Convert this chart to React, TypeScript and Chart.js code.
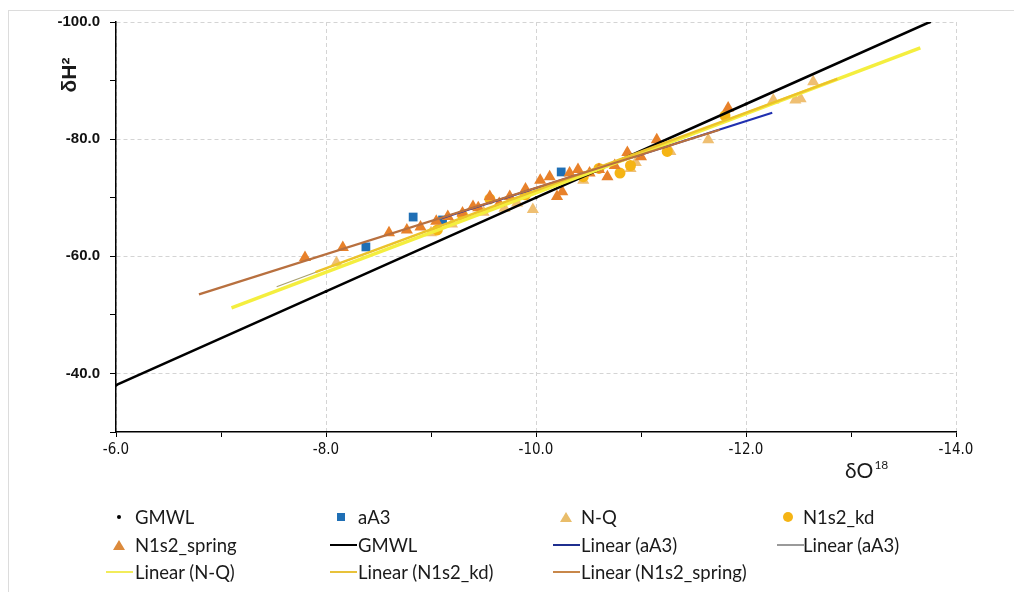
import React, { useEffect, useRef } from 'react';
import { Chart, registerables } from 'chart.js';

Chart.register(...registerables);

// ---- data ----
const GMWL_X = [-6, -8, -10, -12, -13.75];
const GMWL_Y = [-38, -54, -70, -86, -100];

const AA3_X = [-8.38, -8.83, -9.11, -10.24];
const AA3_Y = [-61.6, -66.7, -66.2, -74.4];

const NQ_X = [-8.10, -9.0, -9.2, -9.5, -9.7, -9.82, -9.97, -10.45, -10.9, -10.95, -11.28, -11.64, -12.26, -12.47, -12.52, -12.64];
const NQ_Y = [-58.9, -64.0, -65.5, -67.5, -68.2, -69.1, -68.0, -73.0, -75.0, -76.0, -77.9, -79.9, -86.7, -86.7, -86.9, -89.8];

const KD_X = [-9.06, -9.3, -9.56, -9.9, -10.45, -10.6, -10.80, -10.9, -11.25, -11.8];
const KD_Y = [-64.5, -67.0, -69.8, -70.5, -73.6, -75.0, -74.2, -75.5, -77.9, -84.0];

const SPRING_X = [-7.80, -8.16, -8.6, -8.77, -8.90, -9.05, -9.16, -9.30, -9.4, -9.45, -9.56, -9.65, -9.75, -9.9, -10.04, -10.13, -10.20, -10.25, -10.32, -10.4, -10.51, -10.6, -10.68, -10.75, -10.87, -11.0, -11.15, -11.83];
const SPRING_Y = [-59.8, -61.5, -64.0, -64.5, -65.0, -66.0, -66.8, -67.4, -68.5, -68.3, -70.2, -69.0, -70.2, -71.5, -73.0, -73.6, -70.2, -71.0, -74.2, -74.8, -74.2, -74.8, -73.6, -75.5, -77.7, -77.0, -79.9, -85.3];

const LIN_NQ_X = [-7.10, -13.66];
const LIN_NQ_Y = [-51.2, -95.6];
const LIN_KD_X = [-7.9, -12.87];
const LIN_KD_Y = [-57.3, -90.3];
const LIN_SPRING_X = [-6.79, -11.75];
const LIN_SPRING_Y = [-53.5, -81.6];
const LIN_AA3_X = [-9.1, -12.25];
const LIN_AA3_Y = [-66.5, -84.5];
const LIN_AA3_GRAY_X = [-7.53, -11.2];
const LIN_AA3_GRAY_Y = [-54.8, -79.2];

const X_MIN = -14;
const X_MAX = -6;
const Y_MIN = -100;
const Y_MAX = -30;

const zip = (xs: number[], ys: number[]) => xs.map((x, i) => ({ x, y: ys[i] }));

const C_AA3 = '#1f6fb5';
const C_NQ = '#efbf72';
const C_KD = '#f5b414';
const C_SPRING = '#e8812a';

type LegendEntry = { label: string; kind: string; color: string; col: number; row: number };
const LEGEND: LegendEntry[] = [
  { label: 'GMWL', kind: 'dot', color: '#000', col: 0, row: 0 },
  { label: 'aA3', kind: 'square', color: C_AA3, col: 1, row: 0 },
  { label: 'N-Q', kind: 'triangle', color: '#e9bd6a', col: 2, row: 0 },
  { label: 'N1s2_kd', kind: 'circle', color: C_KD, col: 3, row: 0 },
  { label: 'N1s2_spring', kind: 'triangle', color: '#dc8a3c', col: 0, row: 1 },
  { label: 'GMWL', kind: 'line', color: '#000', col: 1, row: 1 },
  { label: 'Linear (aA3)', kind: 'line', color: '#1f2f8f', col: 2, row: 1 },
  { label: 'Linear (aA3)', kind: 'thinline', color: '#9a9a9a', col: 3, row: 1 },
  { label: 'Linear (N-Q)', kind: 'line', color: '#f2ec5a', col: 0, row: 2 },
  { label: 'Linear (N1s2_kd)', kind: 'line', color: '#e8c23a', col: 1, row: 2 },
  { label: 'Linear (N1s2_spring)', kind: 'line', color: '#c8874a', col: 2, row: 2 },
];

const COL_TEXT = [135, 358, 581, 803];
const COL_MARK = [119, 341, 566, 788];
const COL_LINE = [106, 330, 553, 777];
const ROW_Y = [517, 545, 572];

const titlePlugin = {
  id: 'axisTitles',
  afterDraw(chart: any) {
    const { ctx, chartArea } = chart;
    ctx.save();
    ctx.fillStyle = '#1a1a1a';
    ctx.font = 'bold 21px "Liberation Sans", Arial, sans-serif';
    ctx.translate(chartArea.left - 46, chartArea.top + 53);
    ctx.rotate(-Math.PI / 2);
    ctx.textAlign = 'center';
    ctx.textBaseline = 'middle';
    ctx.fillText('δH²', 0, 0);
    ctx.restore();

    ctx.save();
    ctx.fillStyle = '#1a1a1a';
    ctx.textBaseline = 'alphabetic';
    ctx.textAlign = 'left';
    ctx.font = '21px Lato, "Liberation Sans", sans-serif';
    const bx = chartArea.right - 111;
    const by = chartArea.bottom + 46;
    ctx.fillText('δO', bx, by);
    const w = ctx.measureText('δO').width;
    ctx.font = '12px Lato, "Liberation Sans", sans-serif';
    ctx.fillText('18', bx + w + 1, by - 9);
    ctx.restore();
  },
};

export default function App() {
  const ref = useRef<HTMLCanvasElement>(null);

  useEffect(() => {
    if (!ref.current) return;
    const lineDs = (label: string, xs: number[], ys: number[], color: string, width: number, order: number) => ({
      label,
      data: zip(xs, ys),
      showLine: true,
      borderColor: color,
      borderWidth: width,
      pointRadius: 0,
      fill: false,
      order,
    });
    const chart = new Chart(ref.current, {
      type: 'scatter',
      data: {
        datasets: [
          lineDs('Linear (N1s2_spring)', LIN_SPRING_X, LIN_SPRING_Y, '#b8703f', 2.2, 0),
          lineDs('Linear (N1s2_kd)', LIN_KD_X, LIN_KD_Y, '#ecc22a', 2.5, 1),
          lineDs('Linear (N-Q)', LIN_NQ_X, LIN_NQ_Y, '#f4ee3e', 3.5, 2),
          lineDs('Linear (aA3) gray', LIN_AA3_GRAY_X, LIN_AA3_GRAY_Y, '#a8a070', 1.2, 3),
          lineDs('Linear (aA3)', LIN_AA3_X, LIN_AA3_Y, '#2030b0', 2.2, 4),
          lineDs('GMWL line', GMWL_X, GMWL_Y, '#000000', 2.5, 5),
          {
            label: 'N1s2_spring',
            data: zip(SPRING_X, SPRING_Y),
            pointStyle: 'triangle',
            pointRadius: 7,
            backgroundColor: C_SPRING,
            borderColor: C_SPRING,
            borderWidth: 0,
            order: 6,
          },
          {
            label: 'N1s2_kd',
            data: zip(KD_X, KD_Y),
            pointStyle: 'circle',
            pointRadius: 5.5,
            backgroundColor: C_KD,
            borderColor: C_KD,
            borderWidth: 0,
            order: 7,
          },
          {
            label: 'N-Q',
            data: zip(NQ_X, NQ_Y),
            pointStyle: 'triangle',
            pointRadius: 7,
            backgroundColor: C_NQ,
            borderColor: C_NQ,
            borderWidth: 0,
            order: 8,
          },
          {
            label: 'aA3',
            data: zip(AA3_X, AA3_Y),
            pointStyle: 'rect',
            pointRadius: 6.2,
            backgroundColor: C_AA3,
            borderColor: C_AA3,
            borderWidth: 0,
            order: 9,
          },
          {
            label: 'GMWL',
            data: zip(GMWL_X, GMWL_Y),
            pointStyle: 'circle',
            pointRadius: 1.5,
            backgroundColor: '#000',
            borderWidth: 0,
            order: 10,
          },
        ],
      },
      options: {
        animation: false,
        responsive: false,
        maintainAspectRatio: false,
        layout: { padding: { left: 0, top: 22, right: 58, bottom: 120 } },
        plugins: {
          legend: { display: false },
          tooltip: { enabled: false },
          title: { display: false },
        },
        scales: {
          x: {
            type: 'linear',
            min: X_MIN,
            max: X_MAX,
            reverse: true,
            afterFit: (s: any) => { s.height = 40; },
            ticks: {
              stepSize: 1,
              autoSkip: false,
              maxRotation: 0,
              padding: 4,
              color: '#111',
              font: { family: '"Liberation Sans Narrow", "DejaVu Sans Condensed", "Liberation Sans", sans-serif', size: 15 },
              callback: (v: any) => (Number(v) % 2 === 0 ? Number(v).toFixed(1) : ''),
            },
            grid: {
              color: (c: any) => (c.tick && Math.round(c.tick.value) % 2 === 0 ? '#d4d4d4' : 'rgba(0,0,0,0)'),
              lineWidth: 1,
              tickColor: '#000',
              tickLength: 5,
              tickWidth: 1,
              tickBorderDash: [],
            },
            border: { display: true, color: '#000', width: 1.5, dash: [4, 3] },
          },
          y: {
            type: 'linear',
            min: Y_MIN,
            max: Y_MAX,
            reverse: true,
            afterFit: (s: any) => { s.width = 116; },
            ticks: {
              stepSize: 10,
              autoSkip: false,
              padding: 10,
              color: '#111',
              font: { family: '"Liberation Sans", Arial, sans-serif', size: 15, weight: 'bold' },
              callback: (v: any) => (Number(v) % 20 === 0 ? Number(v).toFixed(1) : ''),
            },
            grid: {
              color: (c: any) => (c.tick && Math.round(c.tick.value) % 20 === 0 ? '#d4d4d4' : 'rgba(0,0,0,0)'),
              lineWidth: 1,
              tickColor: '#000',
              tickLength: 6,
              tickWidth: 1,
              tickBorderDash: [],
            },
            border: { display: true, color: '#000', width: 1.5, dash: [4, 3] },
          },
        },
      } as any,
      plugins: [titlePlugin],
    });
    return () => chart.destroy();
  }, []);

  const renderMarker = (e: LegendEntry) => {
    const cy = ROW_Y[e.row];
    if (e.kind === 'line' || e.kind === 'thinline') {
      const h = e.kind === 'line' ? 2.5 : 1.2;
      return (
        <div style={{ position: 'absolute', left: COL_LINE[e.col], top: cy - h / 2, width: 27, height: h, background: e.color }} />
      );
    }
    const cx = COL_MARK[e.col];
    if (e.kind === 'dot') {
      return <div style={{ position: 'absolute', left: cx - 2, top: cy - 2, width: 4, height: 4, borderRadius: 2, background: e.color }} />;
    }
    if (e.kind === 'square') {
      return <div style={{ position: 'absolute', left: cx - 4, top: cy - 4, width: 8, height: 8, background: e.color }} />;
    }
    if (e.kind === 'circle') {
      return <div style={{ position: 'absolute', left: cx - 5, top: cy - 5, width: 10, height: 10, borderRadius: 5, background: e.color }} />;
    }
    return (
      <div
        style={{
          position: 'absolute',
          left: cx - 6,
          top: cy - 5,
          width: 0,
          height: 0,
          borderLeft: '6px solid transparent',
          borderRight: '6px solid transparent',
          borderBottom: `10px solid ${e.color}`,
        }}
      />
    );
  };

  return (
    <div style={{ position: 'absolute', left: 0, top: 0, width: 1014, height: 592, background: '#fff', overflow: 'hidden' }}>
      <div
        style={{
          position: 'absolute',
          left: 8,
          top: 10,
          width: 1014,
          height: 600,
          borderTop: '1px solid #dcdcdc',
          borderLeft: '1px solid #dcdcdc',
        }}
      />
      <canvas ref={ref} width={1014} height={592} style={{ position: 'absolute', left: 0, top: 0, width: 1014, height: 592 }} />
      {LEGEND.map((e, i) => (
        <React.Fragment key={i}>
          {renderMarker(e)}
          <div
            style={{
              position: 'absolute',
              left: COL_TEXT[e.col],
              top: ROW_Y[e.row] - 11,
              height: 22,
              lineHeight: '22px',
              fontFamily: 'Lato, "Liberation Sans", sans-serif',
              fontSize: 18.5,
              color: '#1a1a1a',
              whiteSpace: 'nowrap',
            }}
          >
            {e.label}
          </div>
        </React.Fragment>
      ))}
    </div>
  );
}
